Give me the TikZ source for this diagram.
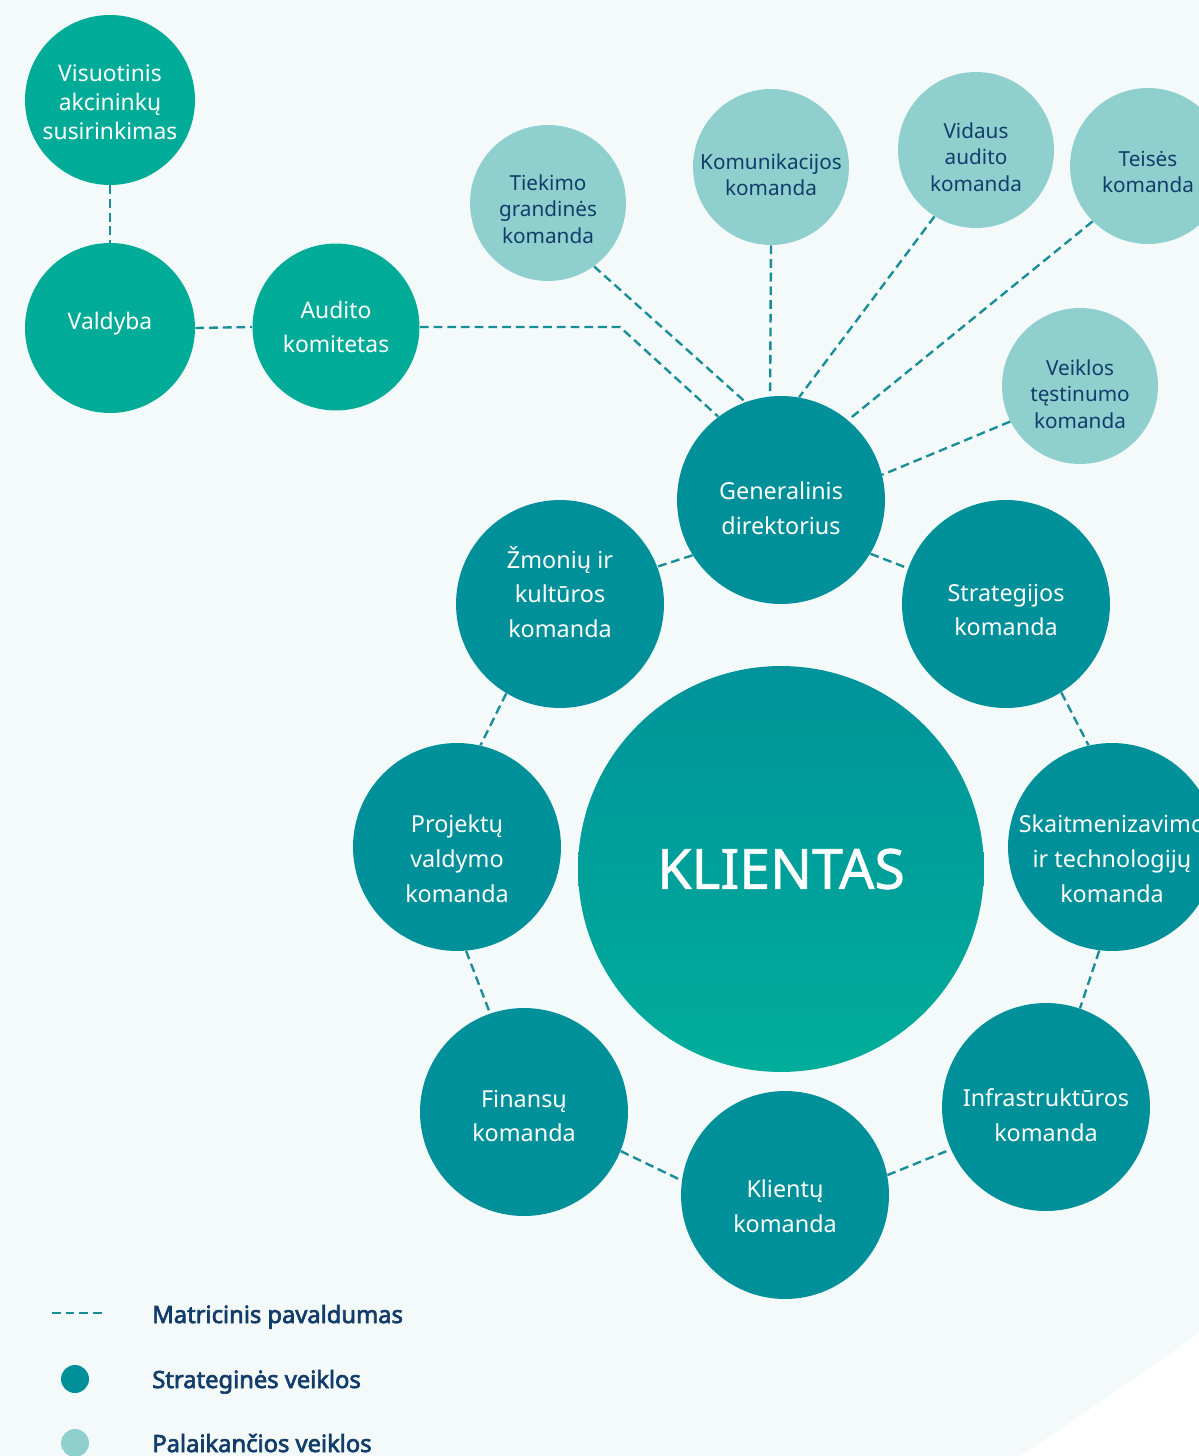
\documentclass[tikz,border=0pt]{standalone}
\usepackage{fontspec}
\setmainfont{Noto Sans}
\newfontfamily\legfont{Noto Sans}[FakeBold=2.8]
\newfontfamily\clientfont{Noto Sans}[FakeBold=1.2]
\definecolor{bgtint}{HTML}{F4FAFA}
\definecolor{stratteal}{HTML}{00909A}
\definecolor{suppteal}{HTML}{8FD0CE}
\definecolor{govgreen}{HTML}{00AB98}
\definecolor{clienttop}{HTML}{00939B}
\definecolor{clientbot}{HTML}{00AD9A}
\definecolor{navytext}{HTML}{123C69}
\definecolor{linkteal}{HTML}{1A8E98}
\usetikzlibrary{positioning}

\begin{document}
\begin{tikzpicture}[
  x=0.02cm, y=-0.02cm,
  strat/.style={circle, fill=stratteal, minimum size=4.16cm, inner sep=0pt},
  supp/.style={circle, fill=suppteal, minimum size=3.12cm, inner sep=0pt},
  gov/.style={circle, fill=govgreen, minimum size=#1, inner sep=0pt},
  stxt/.style={text=white, align=center, inner sep=0pt, font=\fontsize{13.3}{19.8}\selectfont},
  ptxt/.style={text=navytext, align=center, inner sep=0pt, font=\fontsize{11.8}{15}\selectfont},
  gtxt/.style={text=white, align=center, inner sep=0pt, font=\fontsize{13}{16.5}\selectfont},
  link/.style={draw=linkteal, line width=1.35pt, dash pattern=on 5pt off 2.8pt},
  legtext/.style={anchor=base west, inner sep=0pt, text=navytext, font=\fontsize{13.5}{16}\legfont},
  legdot/.style={circle, fill=#1, minimum size=0.56cm, inner sep=0pt},
]
  % Background
  \fill[bgtint] (0,0) rectangle (1199,1456);
  \useasboundingbox (0,0) rectangle (1199,1456);
  \clip (0,0) rectangle (1199,1456);
  \fill[white] (1199,1333) .. controls (1150,1368) and (1090,1410) .. (1020,1456) -- (1199,1456) -- cycle;

  % Governance
  \node[gov=3.4cm, label={[gtxt, yshift=-1.1pt]center:{Visuotinis\\akcininkų\\susirinkimas}}] (gsm) at (110,100) {};
  \node[gov=3.4cm, label={[gtxt, yshift=2.3pt]center:Valdyba}] (board) at (110,328) {};
  \node[gov=3.34cm, label={[gtxt, font=\fontsize{13}{19.3}\selectfont]center:{Audito\\komitetas}}] (auditcom) at (336,327) {};

  % Supporting teams
  \node[supp, label={[ptxt, yshift=-3.4pt]center:{Tiekimo\\grandinės\\komanda}}] (supply) at (548,203) {};
  \node[supp, label={[ptxt, yshift=-4.5pt]center:{Komunikacijos\\komanda}}] (comms) at (771,167) {};
  \node[supp, label={[ptxt, yshift=-4pt]center:{Vidaus\\audito\\komanda}}] (intaudit) at (976,150) {};
  \node[supp, label={[ptxt, yshift=-3.4pt]center:{Teisės\\komanda}}] (legal) at (1148,166) {};
  \node[supp, label={[ptxt, yshift=-4.5pt]center:{Veiklos\\tęstinumo\\komanda}}] (bcm) at (1080,386) {};

  % Strategic teams
  \node[strat, label={[stxt, yshift=-4.5pt]center:{Generalinis\\direktorius}}] (ceo) at (781,500) {};
  \node[strat, label={[stxt, yshift=6.8pt]center:{Žmonių ir\\kultūros\\komanda}}] (people) at (560,604) {};
  \node[strat, label={[stxt, yshift=-3.4pt]center:{Strategijos\\komanda}}] (strategy) at (1006,604) {};
  \node[strat, label={[stxt, yshift=-6.8pt]center:{Projektų\\valdymo\\komanda}}] (pmo) at (457,847) {};
  \node[strat, label={[stxt, yshift=-6.8pt]center:{Skaitmenizavimo\\ir technologijų\\komanda}}] (digital) at (1112,847) {};
  \node[strat, label={[stxt, yshift=-2.3pt]center:{Finansų\\komanda}}] (finance) at (524,1112) {};
  \node[strat, label={[stxt, yshift=-4.5pt]center:{Infrastruktūros\\komanda}}] (infra) at (1046,1107) {};
  \node[strat, label={[stxt, yshift=-6.2pt]center:{Klientų\\komanda}}] (clients) at (785,1195) {};

  % Client
  \node[circle, minimum size=8.12cm, inner sep=0pt, top color=clienttop, bottom color=clientbot, text=white, font=\fontsize{31.5}{36}\clientfont] (client) at (781,869) {KLIENTAS};

  % Matrix links
  \draw[link] (gsm.south) -- (board.north);
  \draw[link] (board.east) -- (auditcom.west);
  \coordinate (bend) at (620,327);
  \draw[link] (auditcom.east) -- (bend) -- (ceo.127);
  \draw[link] (supply.-54) -- (ceo.110);
  \draw[link] (comms.-90) -- (ceo.96);
  \draw[link] (intaudit.-122) -- (ceo.80);
  \draw[link] (legal.-135) -- (ceo.50);
  \draw[link] (bcm.207) -- (ceo.14);

  \draw[link] (ceo.212) -- (people.21);
  \draw[link] (ceo.-31) -- (strategy.160);
  \draw[link] (people.239) -- (pmo.77);
  \draw[link] (strategy.-58) -- (digital.103);
  \draw[link] (pmo.-85) -- (finance.109);
  \draw[link] (digital.-97) -- (infra.71);
  \draw[link] (finance.-22) -- (clients.172);
  \draw[link] (clients.11) -- (infra.204);

  % Legend
  \coordinate (lgA) at (52,1313);
  \coordinate (lgB) at (102,1313);
  \draw[link] (lgA) -- (lgB);
  \node[legtext] (lgmatrix) at (152,1323) {Matricinis pavaldumas};
  \node[legdot=stratteal] (lgstrat) at (75,1379) {};
  \node[legtext] (lgstrattext) at (152,1388) {Strateginės veiklos};
  \node[legdot=suppteal] (lgsupp) at (75,1443) {};
  \node[legtext] (lgsupptext) at (152,1452) {Palaikančios veiklos};
\end{tikzpicture}
\end{document}
